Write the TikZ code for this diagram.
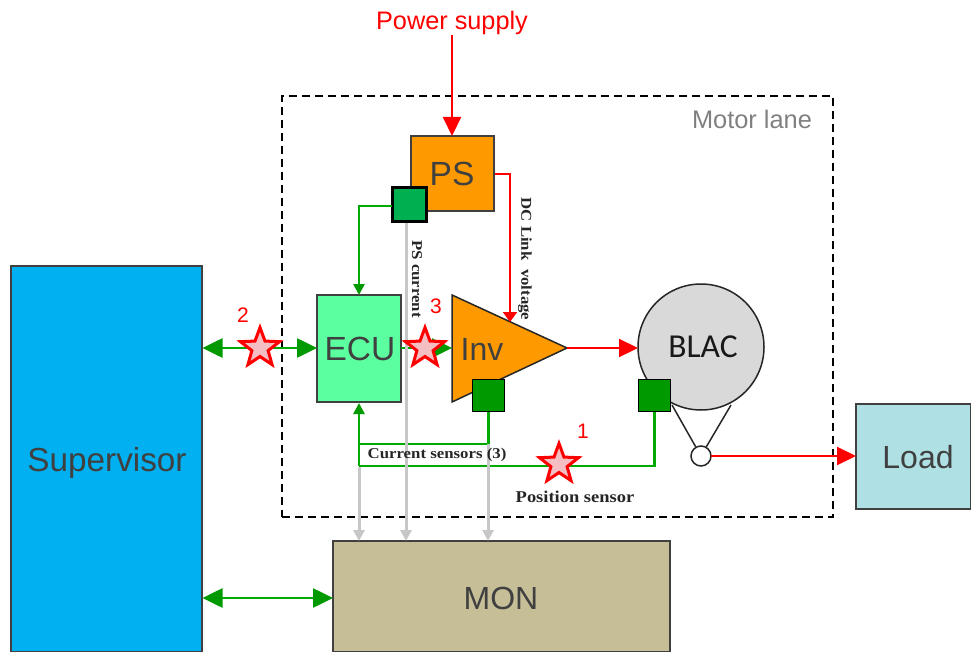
\documentclass[tikz,border=0pt]{standalone}
\usepackage{fontspec}
\setmainfont{Liberation Sans}
\newfontfamily\labelfont[FakeStretch=1.12]{Liberation Serif}
\newfontfamily\blacfont{Carlito}
\usetikzlibrary{arrows.meta,shapes.geometric}
\definecolor{txtgray}{HTML}{404040}
\definecolor{gline}{HTML}{00AA00}
\definecolor{gtip}{HTML}{009900}
\tikzset{
 x=1pt,y=-1pt,
 block/.style={draw=black!75,line width=1.6pt,inner sep=0pt,text=txtgray},
 sens/.style={draw=black,line width=1.5pt,fill=gtip,inner sep=0pt,minimum size=32pt},
 starn/.style={star,star points=5,star point ratio=2.4,draw=red,line width=3pt,fill={rgb,255:red,244;green,190;blue,195},minimum size=41pt,inner sep=0pt},
 rline/.style={draw=red,line width=2.2pt},
 rarr/.style={rline,-{Triangle[length=19pt,width=18pt,fill=red]}},
 gn/.style={draw=gline,line width=2.6pt},
 garr/.style={gn,-{Triangle[length=11pt,width=11pt,fill=gtip,color=gtip]}},
 gdbl/.style={gn,{Triangle[length=20pt,width=19pt,fill=gtip,color=gtip]}-{Triangle[length=20pt,width=19pt,fill=gtip,color=gtip]}},
 gray arr/.style={draw=black!22,line width=3pt,-{Triangle[length=11pt,width=11pt,fill=black!22,color=black!22]}},
 lab/.style={font=\labelfont\bfseries\fontsize{15}{17}\selectfont,inner sep=0pt,text=black!85},
 num/.style={text=red,font=\fontsize{21}{24}\selectfont,inner sep=0pt},
 bigtext/.style={text=txtgray,font=\fontsize{32}{38}\selectfont,inner sep=0pt},
}
\begin{document}
\begin{tikzpicture}
\useasboundingbox (0,0) rectangle (971,652);
\clip (0,0) rectangle (971,652);
% outer dashed lane
\node[draw=black,dash pattern=on 8pt off 5pt,line width=1.5pt,minimum width=551pt,minimum height=421pt,inner sep=0pt] (lane) at (557.5,306.5) {};
\node[text=black!50,font=\fontsize{25.4}{30}\selectfont,inner sep=0pt] (lanetext) at (752,119) {Motor lane};
% blocks
\node[block,fill={rgb,255:red,0;green,176;blue,240},minimum width=191pt,minimum height=386pt] (sup) at (106.5,459) {};
\node[bigtext,font=\fontsize{33.3}{38}\selectfont] (suptext) at (107,463) {Supervisor};
\node[block,fill={rgb,255:red,197;green,190;blue,151},minimum width=337pt,minimum height=111pt] (mon) at (501.5,596.5) {};
\node[bigtext] (montext) at (501,598) {MON};
\node[block,fill={rgb,255:red,174;green,224;blue,228},minimum width=115pt,minimum height=105pt] (load) at (913.5,456.5) {};
\node[bigtext] (loadtext) at (918,457) {Load};
\node[block,fill={rgb,255:red,92;green,255;blue,160},minimum width=84pt,minimum height=107pt] (ecu) at (359,348.5) {};
\node[bigtext,font=\fontsize{33.5}{38}\selectfont] (ecutext) at (360,349) {ECU};
\node[block,fill={rgb,255:red,255;green,153;blue,0},minimum width=83pt,minimum height=75pt] (ps) at (452.5,173.5) {};
\node[bigtext,font=\fontsize{33.5}{38}\selectfont] (pstext) at (452,174) {PS};
% motor
\coordinate (legl) at (672,405);
\coordinate (legr) at (731,405);
\node[circle,draw=black!85,line width=1.5pt,fill=white,minimum size=20pt,inner sep=0pt] (shaft) at (701,456) {};
\draw[draw=black!85,line width=1.5pt] (legl) -- (shaft.120) (legr) -- (shaft.60);
\node[circle,draw=black!85,line width=1.5pt,fill=black!15,minimum size=126pt,inner sep=0pt] (blac) at (701,347) {};
\node[text=black!90,font=\blacfont\fontsize{33.5}{38}\selectfont,inner sep=0pt] (blactext) at (703,347) {BLAC};
% inverter
\fill[fill={rgb,255:red,255;green,153;blue,0}] (452,295) coordinate (invtl) -- (567,348) coordinate (invtip) -- (452,402) coordinate (invbl) -- cycle;
\draw[black!85,line width=1.5pt] (invtl) -- (invtip) -- (invbl) -- cycle;
\node[bigtext] (invtext) at (482,349) {Inv};
% sensors
\node[sens] (sinv) at (488.5,395.5) {};
\node[sens] (sblac) at (654.5,395.5) {};
\node[sens,line width=3.6pt,fill={rgb,255:red,0;green,176;blue,80},minimum size=34pt] (sps) at (409.5,204.5) {};
% junctions
\coordinate (ecubot) at (359,403);
\coordinate (ecutop) at (359,295);
\coordinate (jcur) at (359,444);
\coordinate (jpos) at (359,466);
\coordinate (dcend) at (510,322);
\coordinate (dcbend) at (510,174);
\coordinate (supin) at (202.5,348);
\coordinate (ecuin) at (317,348);
\coordinate (ecuout) at (401,348);
\coordinate (invin) at (452,348);
\coordinate (supm) at (202.5,598);
\coordinate (monm) at (333,598);
\coordinate (gcs) at (359,467);
\coordinate (gcm) at (359,541);
\coordinate (gps) at (406,223);
\coordinate (gpm) at (406,541);
\coordinate (gis) at (488,444);
\coordinate (gim) at (488,541);
\coordinate (psin) at (452,136);
\coordinate (shaftout) at (711,456);
\coordinate (loadin) at (856,456);
\coordinate (blacin) at (638,348);
\coordinate (spsl) at (392,206);
\coordinate (ecuturn) at (359,206);
% power
\node[text=red,font=\fontsize{25.3}{30}\selectfont,inner sep=0pt,anchor=base] (power) at (452,30) {Power supply};
\draw[rarr] (power.south -| psin) -- (psin);
\draw[rline,-{Triangle[length=10pt,width=14pt,fill=red]}] (ps.east |- dcbend) -- (dcbend) -- (dcend);
\draw[rarr] (invtip) -- (blacin);
\draw[rarr] (shaftout) -- (loadin);
% green
\draw[garr] (spsl) -- (ecuturn) -- (ecutop);
\draw[gn] (sinv.south) |- (jcur);
\draw[gn] (sblac.south) |- (jpos);
\draw[garr] (jpos) -- (ecubot);
\draw[gdbl] (supin) -- (ecuin);
\draw[gdbl] (supm) -- (monm);
\draw[gn,-{Triangle[length=20pt,width=19pt,fill=gtip,color=gtip]}] (ecuout) -- (invin);
% gray
\draw[gray arr] (gcs) -- (gcm);
\draw[gray arr] (gps) -- (gpm);
\draw[gray arr] (gis) -- (gim);
% stars
\node[starn] (star1) at (559,464) {};
\node[starn] (star2) at (260,348) {};
\node[starn] (star3) at (425,348) {};
\node[num] (n1) at (583,431) {1};
\node[num] (n2) at (243,315) {2};
\node[num] (n3) at (436,306) {3};
% labels
\node[lab] (lcur) at (437,455) {Current sensors (3)};
\node[lab,font=\labelfont\bfseries\fontsize{16.5}{18}\selectfont] (lpos) at (575,497) {Position sensor};
\node[lab,rotate=-90] (lps) at (417,279) {PS current};
\node[lab,rotate=-90] (ldc) at (525,259) {DC Link~ voltage};
\end{tikzpicture}
\end{document}
